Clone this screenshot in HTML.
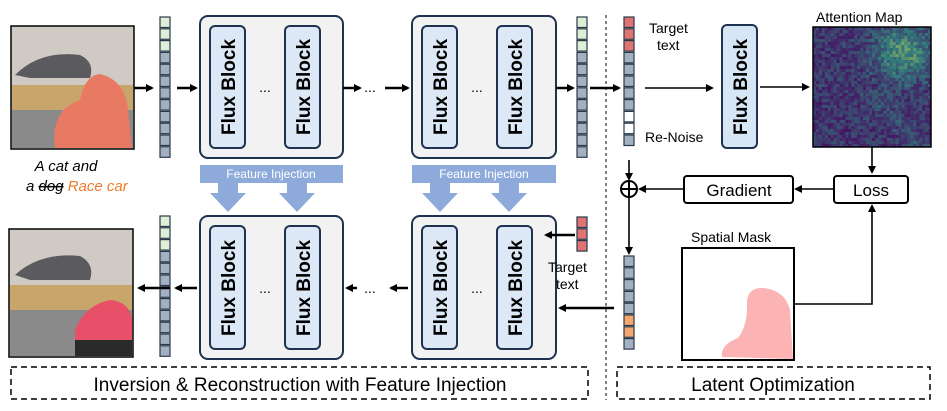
<!DOCTYPE html>
<html><head><meta charset="utf-8"><style>
html,body{margin:0;padding:0;background:#fff}
svg{display:block}
.c{font-family:"Comic Sans MS","Liberation Sans",sans-serif}
.fb{font-family:"Liberation Sans",sans-serif;font-weight:bold;font-size:19px}
</style></head><body>
<svg id="s" width="947" height="411" viewBox="0 0 947 411" xmlns="http://www.w3.org/2000/svg">
<defs>
<marker id="a" markerWidth="8" markerHeight="8" refX="6" refY="4" orient="auto" markerUnits="userSpaceOnUse"><path d="M0,0 L8,4 L0,8 z" fill="#000"/></marker>
<g id="col12">
</g>
</defs>

<!-- top image -->
<rect x="11" y="26" width="123" height="123" fill="#d9d6d2" stroke="#000" stroke-width="1.5"/>
<rect x="12" y="27" width="121" height="60" fill="#cfcac4"/>
<rect x="12" y="85" width="121" height="25" fill="#c8a56a"/>
<rect x="12" y="110" width="121" height="38" fill="#8a8a8a"/>
<path d="M15,75 Q40,50 80,55 Q95,62 90,78 L30,78 z" fill="#5a5a5f"/>
<path d="M55,148 Q50,110 80,100 Q85,75 100,74 Q125,80 128,110 L132,148 z" fill="#e87a64"/>
<!-- bottom image -->
<rect x="9" y="229" width="124" height="128" fill="#d9d6d2" stroke="#000" stroke-width="1.5"/>
<rect x="10" y="230" width="122" height="55" fill="#cfcac4"/>
<rect x="10" y="285" width="122" height="25" fill="#c8a56a"/>
<rect x="10" y="310" width="122" height="46" fill="#8a8a8a"/>
<path d="M15,275 Q40,252 80,256 Q95,264 90,280 L30,280 z" fill="#5a5a5f"/>
<path d="M75,356 L75,330 Q85,305 110,300 Q130,302 132,320 L132,356 z" fill="#e8506a"/>
<rect x="75" y="340" width="57" height="16" fill="#2a2a2a"/>

<text x="66" y="171" class="c" font-size="15" font-style="italic" text-anchor="middle">A cat and</text>
<text x="26" y="191" class="c" font-size="15" font-style="italic">a <tspan text-decoration="line-through">dog</tspan> <tspan fill="#f07a28">Race car</tspan></text>

<!-- big boxes -->
<g fill="#f2f2f2" stroke="#1f3350" stroke-width="2">
<rect x="200" y="16" width="143" height="142" rx="8"/>
<rect x="412" y="16" width="144" height="142" rx="8"/>
<rect x="200" y="216" width="143" height="143" rx="8"/>
<rect x="412" y="216" width="144" height="143" rx="8"/>
</g>
<g fill="#dce8f6" stroke="#1f3350" stroke-width="2">
<rect x="210" y="26" width="35" height="122" rx="5"/><rect x="285" y="26" width="35" height="122" rx="5"/>
<rect x="422" y="26" width="35" height="122" rx="5"/><rect x="497" y="26" width="35" height="122" rx="5"/>
<rect x="210" y="226" width="35" height="123" rx="5"/><rect x="285" y="226" width="35" height="123" rx="5"/>
<rect x="422" y="226" width="35" height="123" rx="5"/><rect x="497" y="226" width="35" height="123" rx="5"/>
<rect x="722" y="25" width="35" height="123" rx="5" fill="#d6e6f4"/>
</g>
<g class="fb">
<text transform="translate(235,87) rotate(-90)" text-anchor="middle">Flux Block</text>
<text transform="translate(310,87) rotate(-90)" text-anchor="middle">Flux Block</text>
<text transform="translate(447,87) rotate(-90)" text-anchor="middle">Flux Block</text>
<text transform="translate(522,87) rotate(-90)" text-anchor="middle">Flux Block</text>
<text transform="translate(235,288) rotate(-90)" text-anchor="middle">Flux Block</text>
<text transform="translate(310,288) rotate(-90)" text-anchor="middle">Flux Block</text>
<text transform="translate(447,288) rotate(-90)" text-anchor="middle">Flux Block</text>
<text transform="translate(522,288) rotate(-90)" text-anchor="middle">Flux Block</text>
<text transform="translate(747,87) rotate(-90)" text-anchor="middle">Flux Block</text>
</g>
<g font-family="Liberation Sans,sans-serif" font-size="14" text-anchor="middle">
<text x="265" y="92">...</text><text x="477" y="92">...</text><text x="370" y="92">...</text>
<text x="265" y="293">...</text><text x="477" y="293">...</text><text x="370" y="293">...</text>
</g>

<!-- feature injection -->
<g fill="#8eaadb">
<rect x="200" y="165" width="143" height="18"/>
<path d="M218,183 h20 v10 h8 l-18,19 l-18,-19 h8 z"/>
<path d="M287,183 h20 v10 h8 l-18,19 l-18,-19 h8 z"/>
<rect x="412" y="165" width="144" height="18"/>
<path d="M430,183 h20 v10 h8 l-18,19 l-18,-19 h8 z"/>
<path d="M499,183 h20 v10 h8 l-18,19 l-18,-19 h8 z"/>
</g>
<text x="271" y="178" class="c" font-size="12" fill="#fff" text-anchor="middle">Feature Injection</text>
<text x="484" y="178" class="c" font-size="12" fill="#fff" text-anchor="middle">Feature Injection</text>

<g id="cols"></g>

<!-- arrows -->
<g stroke="#000" stroke-width="2.5" fill="none" marker-end="url(#a)">
<line x1="134" y1="88" x2="152" y2="88"/>
<line x1="177" y1="88" x2="196" y2="88"/>
<line x1="343" y1="88" x2="360" y2="88"/>
<line x1="385" y1="88" x2="408" y2="88"/>
<line x1="556" y1="88" x2="573" y2="88"/>
<line x1="590" y1="88" x2="619" y2="88"/>
<line x1="170" y1="288" x2="139" y2="288"/>
<line x1="197" y1="288" x2="176" y2="288"/>
<line x1="408" y1="288" x2="391" y2="288"/>
<line x1="357" y1="288" x2="347" y2="288"/>
<line x1="575" y1="235" x2="546" y2="235"/>
<line x1="614" y1="308" x2="560" y2="308"/>
</g>
<g stroke="#000" stroke-width="1.6" fill="none" marker-end="url(#a)">
<line x1="645" y1="88" x2="712" y2="88"/>
<line x1="760" y1="87" x2="808" y2="87"/>
<line x1="872" y1="147" x2="872" y2="172"/>
<line x1="834" y1="189" x2="796" y2="189"/>
<line x1="684" y1="189" x2="640" y2="189"/>
<line x1="629" y1="160" x2="629" y2="179"/>
<line x1="629" y1="197" x2="629" y2="253"/>
<polyline points="794,304 872,304 872,206"/>
</g>
<circle cx="629" cy="189" r="8" fill="#fff" stroke="#000" stroke-width="2"/>
<line x1="621" y1="189" x2="637" y2="189" stroke="#000" stroke-width="2"/>
<line x1="629" y1="181" x2="629" y2="197" stroke="#000" stroke-width="2"/>

<g class="c" font-size="14">
<text x="649" y="33">Target</text><text x="657" y="50">text</text>
<text x="645" y="142">Re-Noise</text>
<text x="548" y="272">Target</text><text x="556" y="289">text</text>
<text x="816" y="22">Attention Map</text>
<text x="691" y="242">Spatial Mask</text>
</g>
<rect x="684" y="176" width="109" height="27" rx="3" fill="#fff" stroke="#000" stroke-width="2"/>
<rect x="834" y="176" width="74" height="27" rx="3" fill="#fff" stroke="#000" stroke-width="2"/>
<text x="739" y="196" class="c" font-size="17" text-anchor="middle">Gradient</text>
<text x="871" y="196" class="c" font-size="17" text-anchor="middle">Loss</text>

<rect x="682" y="248" width="112" height="112" fill="#fff" stroke="#000" stroke-width="2"/>
<path d="M722,357 Q720,345 738,338 Q748,325 747,302 Q748,287 763,288 Q785,290 790,310 L793,359 z" fill="#fcb3b3"/>

<g id="att"></g>
<rect x="813" y="27" width="118" height="120" fill="none" stroke="#000" stroke-width="1.5"/>

<line x1="606" y1="15" x2="606" y2="400" stroke="#000" stroke-width="1" stroke-dasharray="3,3"/>
<rect x="11" y="367" width="577" height="32" fill="none" stroke="#000" stroke-width="1.5" stroke-dasharray="6,4"/>
<rect x="617" y="367" width="313" height="32" fill="none" stroke="#000" stroke-width="1.5" stroke-dasharray="6,4"/>
<text x="300" y="391" class="c" font-size="19" text-anchor="middle">Inversion &amp; Reconstruction with Feature Injection</text>
<text x="773" y="391" class="c" font-size="19" text-anchor="middle">Latent Optimization</text>
</svg>
<script>
var NS="http://www.w3.org/2000/svg";
function col(x,y,colors){var g=document.getElementById("cols");colors.forEach(function(c,i){var r=document.createElementNS(NS,"rect");r.setAttribute("x",x);r.setAttribute("y",y+i*11.8);r.setAttribute("width",10);r.setAttribute("height",10.5);r.setAttribute("fill",c);r.setAttribute("stroke","#2a3a4a");r.setAttribute("stroke-width","1.2");g.appendChild(r);});}
var G="#dfeed6",B="#a2b0c2",R="#e07474",W="#ffffff",O="#f4a870";
col(160,17,[G,G,G,B,B,B,B,B,B,B,B,B]);
col(577,17,[G,G,G,B,B,B,B,B,B,B,B,B]);
col(624,17,[R,R,R,B,B,B,B,B,W,W,B]);
col(160,216,[G,G,G,B,B,B,B,B,B,B,B,B]);
col(577,217,[R,R,R]);
col(624,256,[B,B,B,B,B,O,O,B]);
var a=document.getElementById("att");var n=40,w=118/n,h=120/n;
for(var i=0;i<n;i++)for(var j=0;j<n;j++){var t=Math.random()*0.35;
var dx=(i-30)/10,dy=(j-8)/10;t+=0.5*Math.exp(-(dx*dx+dy*dy));
var d2=(i-25)-(j-28);t+=0.12*Math.exp(-d2*d2/20)*(j>20?1:0);
t=Math.min(1,t);var r=Math.round(68-30*t+ (t>0.6?(t-0.6)*400:0)),g=Math.round(20+180*t),b=Math.round(100+40*t-(t>0.6?(t-0.6)*150:0));
var e=document.createElementNS(NS,"rect");e.setAttribute("x",813+i*w);e.setAttribute("y",27+j*h);e.setAttribute("width",w+0.3);e.setAttribute("height",h+0.3);e.setAttribute("fill","rgb("+r+","+g+","+b+")");a.appendChild(e);}
</script>
</body></html>
